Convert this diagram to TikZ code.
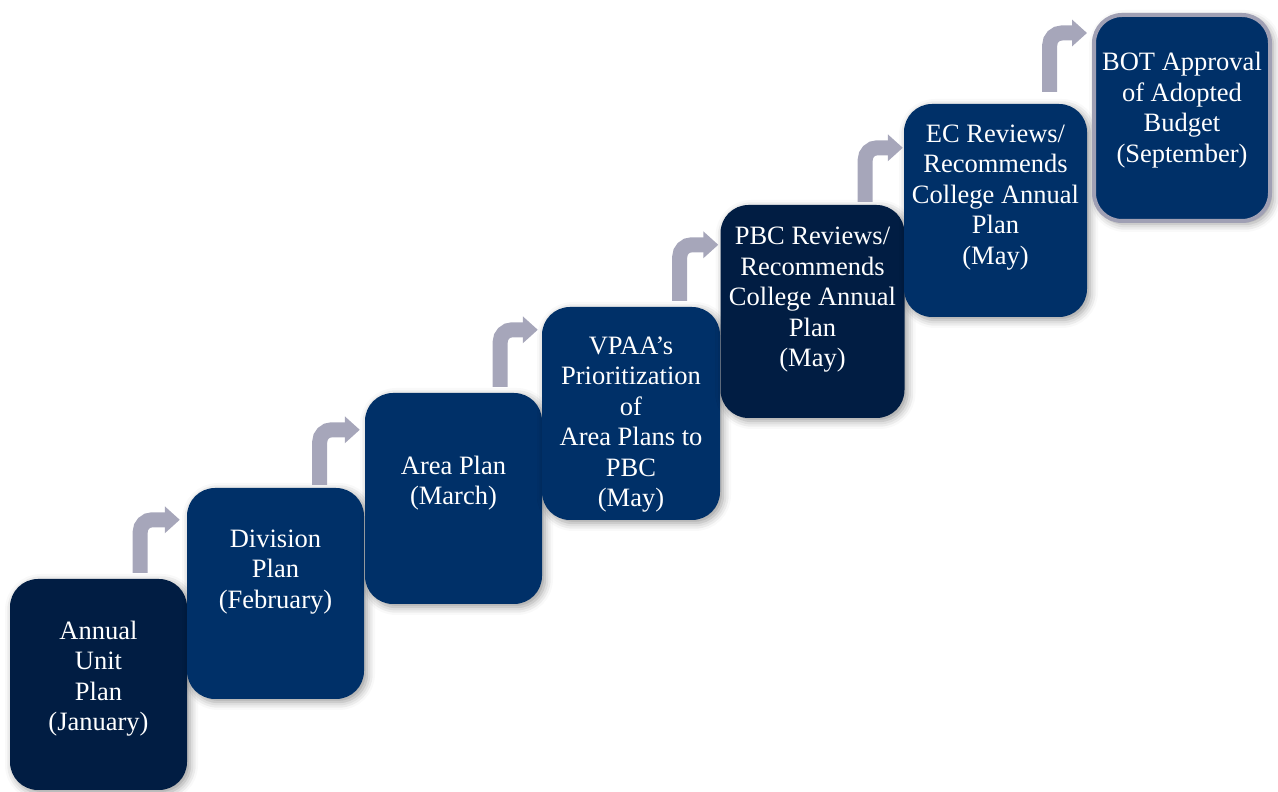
\documentclass[tikz,border=0pt]{standalone}
\usepackage{fontspec}
\setmainfont{Liberation Serif}
\usetikzlibrary{arrows.meta,shadows.blur}
\definecolor{planblue}{RGB}{0,48,104}
\definecolor{plandark}{RGB}{1,29,67}
\definecolor{bendgray}{RGB}{166,166,186}
\definecolor{framegray}{RGB}{160,160,180}
\tikzset{
  plan box/.style={
    rounded corners=28pt, fill=#1, inner sep=0pt,
    minimum width=177pt, minimum height=211pt,
    blur shadow={shadow xshift=3pt, shadow yshift=-3pt,
                 shadow blur radius=8pt, shadow opacity=40}},
  plan box/.default=planblue,
  plan text/.style={text=white, align=center, inner sep=0pt,
    font=\fontsize{26.5}{30.5}\selectfont},
  bend arrow/.style={draw=bendgray, line width=15pt, rounded corners=12pt,
    -{Triangle[width=26pt,length=15pt]}},
  }

\begin{document}
\begin{tikzpicture}[x=1pt,y=1pt]
    \useasboundingbox (0,0) rectangle (1278,792);

    % Boxes
    \node[plan box=plandark] (b1) at (98.5,107.5) {};
    \node[plan box] (b2) at (275.5,198.5) {};
    \node[plan box] (b3) at (453.5,293.5) {};
    \node[plan box, minimum width=178pt, minimum height=213pt] (b4) at (631,378.5) {};
    \node[plan box=plandark, minimum width=184pt, minimum height=213pt] (b5) at (812.5,480.5) {};
    \node[plan box, minimum width=183pt, minimum height=213pt] (b6) at (995.5,581.5) {};
    \node[plan box, draw=framegray, line width=4pt, minimum width=176pt, minimum height=206pt] (b7) at (1182,674) {};

    % Labels
    \node[plan text] (t1) at ([yshift=6pt]b1.center) {Annual\\Unit\\Plan\\(January)};
    \node[plan text] (t2) at ([yshift=21.5pt]b2.center) {Division\\Plan\\(February)};
    \node[plan text] (t3) at ([yshift=15.5pt]b3.center) {Area Plan\\(March)};
    \node[plan text] (t4) at ([yshift=-11pt]b4.center) {VPAA’s\\Prioritization\\of\\Area Plans to\\PBC\\(May)};
    \node[plan text] (t5) at ([yshift=11.5pt]b5.center) {PBC Reviews/\\Recommends\\College Annual\\Plan\\(May)};
    \node[plan text] (t6) at ([yshift=13pt]b6.center) {EC Reviews/\\Recommends\\College Annual\\Plan\\(May)};
    \node[plan text] (t7) at ([yshift=8pt]b7.center) {BOT Approval\\of Adopted\\Budget\\(September)};

    % Bent arrows
    \draw[bend arrow] ([xshift=-47pt,yshift=6pt]b1.north east) |- ([xshift=-7pt,yshift=-32pt]b2.north west);
    \draw[bend arrow] ([xshift=-44.5pt,yshift=3pt]b2.north east) |- ([xshift=-5pt,yshift=-37pt]b3.north west);
    \draw[bend arrow] ([xshift=-42pt,yshift=6pt]b3.north east) |- ([xshift=-4pt,yshift=-23pt]b4.north west);
    \draw[bend arrow] ([xshift=-40.5pt,yshift=6pt]b4.north east) |- ([xshift=-2pt,yshift=-40pt]b5.north west);
    \draw[bend arrow] ([xshift=-39.5pt,yshift=3pt]b5.north east) |- ([xshift=-1pt,yshift=-44pt]b6.north west);
    \draw[bend arrow] ([xshift=-37.5pt,yshift=12pt]b6.north east) |- ([xshift=-5pt,yshift=-20pt]b7.north west);
\end{tikzpicture}
\end{document}
